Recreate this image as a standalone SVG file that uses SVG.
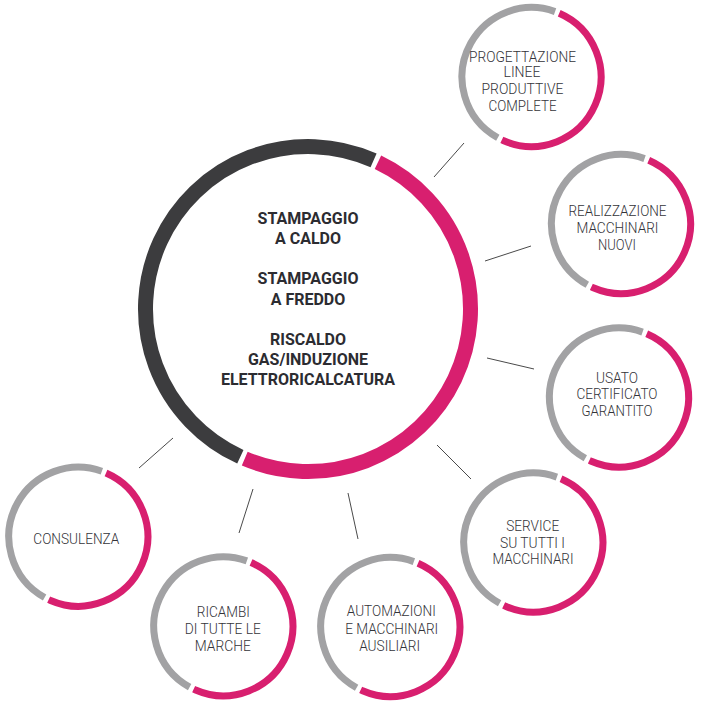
<svg xmlns="http://www.w3.org/2000/svg" width="718" height="705" viewBox="0 0 718 705">
<style>
.bg{fill:#ffffff}
.ring{fill:none;stroke-linecap:butt}
.sp{stroke:#d81f6f;stroke-width:7;stroke-dasharray:220.16 1000}
.sg{stroke:#a2a2a4;stroke-width:7;stroke-dasharray:206.82 1000}
.bp{stroke:#d81f6f;stroke-width:15;stroke-dasharray:502.9 2000}
.bd{stroke:#3c3c3e;stroke-width:15;stroke-dasharray:508.0 2000}
.conn line{stroke:#4a4a4a;stroke-width:1}
.main{font-family:Roboto,"Liberation Sans",sans-serif;font-weight:700;font-size:16px;fill:#2c2c31;text-anchor:middle}
.lbl{font-family:Roboto,"Liberation Sans",sans-serif;font-weight:300;font-size:15px;fill:#333338;text-anchor:middle}
</style>
<rect class="bg" x="0" y="0" width="718" height="705"/>
<g id="connectors" class="conn">
<line x1="434" y1="177" x2="464" y2="143"/>
<line x1="485" y1="261" x2="531" y2="246"/>
<line x1="487" y1="358" x2="534" y2="369"/>
<line x1="437" y1="445" x2="471" y2="479"/>
<line x1="139" y1="468" x2="173" y2="438"/>
<line x1="253" y1="489" x2="239" y2="533"/>
<line x1="348" y1="493" x2="358" y2="539"/>
</g>
<g id="main">
<circle class="ring bp" cx="308" cy="309" r="162.5" transform="rotate(-64.5 308 309)"/>
<circle class="ring bd" cx="308" cy="309" r="162.5" transform="rotate(114.6 308 309)"/>
<text class="main" x="308" y="224.3">STAMPAGGIO</text>
<text class="main" x="308" y="244">A CALDO</text>
<text class="main" x="308" y="284">STAMPAGGIO</text>
<text class="main" x="308" y="304.7">A FREDDO</text>
<text class="main" x="308" y="345">RISCALDO</text>
<text class="main" x="308" y="365">GAS/INDUZIONE</text>
<text class="main" x="308" y="385">ELETTRORICALCATURA</text>
</g>
<g id="progettazione">
<circle class="ring sp" cx="531.5" cy="77" r="69.5" transform="rotate(-66.5 531.5 77)"/>
<circle class="ring sg" cx="531.5" cy="77" r="69.5" transform="rotate(119 531.5 77)"/>
<text class="lbl" x="522.5" y="61.7" textLength="107" lengthAdjust="spacingAndGlyphs">PROGETTAZIONE</text>
<text class="lbl" x="522" y="77.3" textLength="37" lengthAdjust="spacingAndGlyphs">LINEE</text>
<text class="lbl" x="522.5" y="94.3" textLength="82" lengthAdjust="spacingAndGlyphs">PRODUTTIVE</text>
<text class="lbl" x="522.5" y="110.7" textLength="68" lengthAdjust="spacingAndGlyphs">COMPLETE</text>
</g>
<g id="realizzazione">
<circle class="ring sp" cx="621" cy="224" r="69.5" transform="rotate(-66.5 621 224)"/>
<circle class="ring sg" cx="621" cy="224" r="69.5" transform="rotate(119 621 224)"/>
<text class="lbl" x="617.5" y="215.7" textLength="98" lengthAdjust="spacingAndGlyphs">REALIZZAZIONE</text>
<text class="lbl" x="617.5" y="233.3" textLength="82" lengthAdjust="spacingAndGlyphs">MACCHINARI</text>
<text class="lbl" x="617" y="249.5" textLength="38" lengthAdjust="spacingAndGlyphs">NUOVI</text>
</g>
<g id="usato">
<circle class="ring sp" cx="619" cy="397.5" r="69.5" transform="rotate(-66.5 619 397.5)"/>
<circle class="ring sg" cx="619" cy="397.5" r="69.5" transform="rotate(119 619 397.5)"/>
<text class="lbl" x="617" y="382.7" textLength="42" lengthAdjust="spacingAndGlyphs">USATO</text>
<text class="lbl" x="617" y="399.3" textLength="81" lengthAdjust="spacingAndGlyphs">CERTIFICATO</text>
<text class="lbl" x="617" y="416" textLength="71" lengthAdjust="spacingAndGlyphs">GARANTITO</text>
</g>
<g id="service">
<circle class="ring sp" cx="533.3" cy="542.5" r="69.5" transform="rotate(-66.5 533.3 542.5)"/>
<circle class="ring sg" cx="533.3" cy="542.5" r="69.5" transform="rotate(119 533.3 542.5)"/>
<text class="lbl" x="532.7" y="531" textLength="53" lengthAdjust="spacingAndGlyphs">SERVICE</text>
<text class="lbl" x="532.5" y="547.7" textLength="65" lengthAdjust="spacingAndGlyphs">SU TUTTI I</text>
<text class="lbl" x="533" y="564.3" textLength="81" lengthAdjust="spacingAndGlyphs">MACCHINARI</text>
</g>
<g id="consulenza">
<circle class="ring sp" cx="78.3" cy="536.7" r="69.5" transform="rotate(-66.5 78.3 536.7)"/>
<circle class="ring sg" cx="78.3" cy="536.7" r="69.5" transform="rotate(119 78.3 536.7)"/>
<text class="lbl" x="76.3" y="544.3" textLength="86" lengthAdjust="spacingAndGlyphs">CONSULENZA</text>
</g>
<g id="ricambi">
<circle class="ring sp" cx="223.3" cy="626.3" r="69.5" transform="rotate(-66.5 223.3 626.3)"/>
<circle class="ring sg" cx="223.3" cy="626.3" r="69.5" transform="rotate(119 223.3 626.3)"/>
<text class="lbl" x="223.3" y="617.3" textLength="53" lengthAdjust="spacingAndGlyphs">RICAMBI</text>
<text class="lbl" x="222.8" y="634" textLength="76" lengthAdjust="spacingAndGlyphs">DI TUTTE LE</text>
<text class="lbl" x="222.8" y="650.7" textLength="56" lengthAdjust="spacingAndGlyphs">MARCHE</text>
</g>
<g id="automazioni">
<circle class="ring sp" cx="390.3" cy="627" r="69.5" transform="rotate(-66.5 390.3 627)"/>
<circle class="ring sg" cx="390.3" cy="627" r="69.5" transform="rotate(119 390.3 627)"/>
<text class="lbl" x="391.3" y="616" textLength="89" lengthAdjust="spacingAndGlyphs">AUTOMAZIONI</text>
<text class="lbl" x="391.7" y="634" textLength="93" lengthAdjust="spacingAndGlyphs">E MACCHINARI</text>
<text class="lbl" x="389.7" y="650.7" textLength="61" lengthAdjust="spacingAndGlyphs">AUSILIARI</text>
</g>
</svg>
